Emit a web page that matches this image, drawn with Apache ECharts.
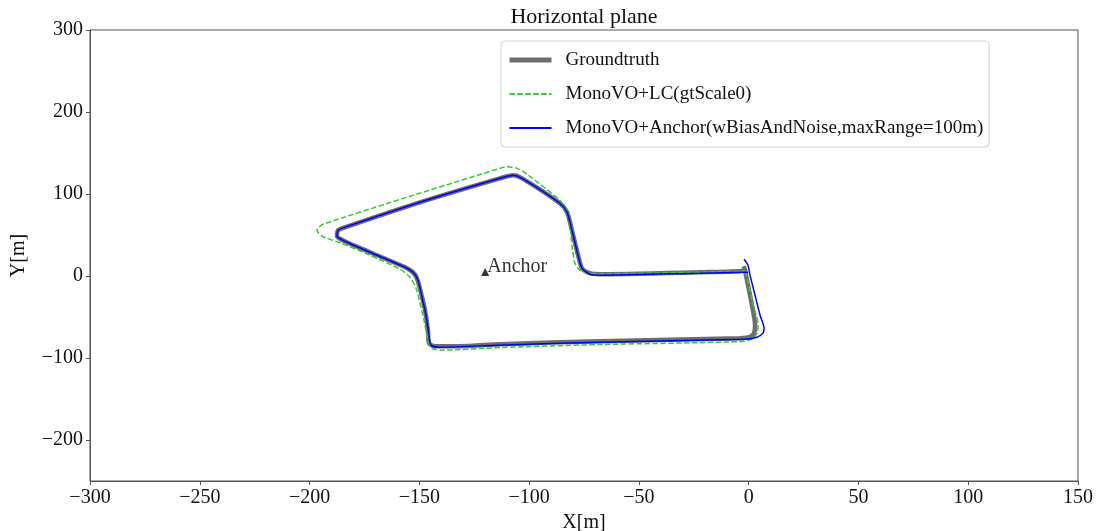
<!DOCTYPE html>
<html>
<head>
<meta charset="utf-8">
<script src="https://cdn.jsdelivr.net/npm/echarts@6/dist/echarts.min.js"></script>
<style>
  html, body { margin: 0; padding: 0; background: #fff; }
  #chart { width: 1099px; height: 531px; }
</style>
</head>
<body>
<div id="chart"></div>
<script>
// Trajectories in the horizontal plane, [x, y] in metres
const groundtruth = [
  [-1.7, 7.0], [-0.3, -11.2], [1.5, -35.6], [2.9, -60.0], [2.4, -69.7], [0.2, -74.6],
  [-4.0, -75.8], [-67.7, -79.5], [-113.3, -83.1], [-131.5, -85.6], [-142.9, -85.6],
  [-145.6, -81.9], [-146.1, -66.1], [-147.4, -41.7], [-149.2, -21.0], [-151.1, -2.7],
  [-152.9, 4.6], [-156.5, 10.7], [-172.5, 29.0], [-183.9, 42.4], [-187.5, 48.4],
  [-187.0, 55.8], [-183.9, 59.4], [-149.7, 89.9], [-113.3, 119.1], [-107.3, 122.8],
  [-103.2, 119.1], [-86.0, 88.7], [-82.7, 77.7], [-80.5, 55.8], [-77.7, 25.3],
  [-75.9, 9.5], [-72.3, 3.4], [-67.7, 2.2], [-22.2, 4.6], [-1.7, 7.0], [-2.2, 12.0]
];

const monoLC = [
  [-1.7, 5.8], [-0.3, -7.6], [1.5, -29.6], [4.3, -60.0], [3.8, -69.7], [1.5, -77.0],
  [-4.0, -80.0], [-67.7, -83.6], [-113.3, -87.3], [-139.7, -90.4], [-144.3, -88.0],
  [-146.1, -78.3], [-147.9, -53.9], [-151.5, -14.9], [-154.3, -1.5], [-158.8, 8.2],
  [-172.5, 25.3], [-186.1, 40.5], [-194.3, 48.5], [-196.6, 55.8], [-193.9, 63.1],
  [-111.9, 132.5], [-110.1, 133.1], [-105.5, 131.3], [-100.9, 124.0], [-86.0, 92.3],
  [-82.7, 80.1], [-81.4, 61.8], [-80.5, 37.5], [-79.1, 15.6], [-76.8, 7.0],
  [-73.2, 3.4], [-67.7, 2.8], [-22.2, 4.6], [-1.7, 5.8]
];

const monoAnchor = [
  [-2.1, 20.5], [-0.3, 13.2], [0.6, 1.0], [2.9, -23.4], [5.2, -47.8], [7.0, -63.6],
  [6.5, -69.7], [3.8, -74.6], [-1.7, -77.0], [-67.7, -80.7], [-113.3, -84.3],
  [-140.6, -86.8], [-144.7, -84.3], [-145.6, -72.2], [-147.0, -47.8], [-148.8, -25.9],
  [-150.6, -5.1], [-152.9, 4.6], [-156.5, 10.7], [-172.5, 29.0], [-183.9, 42.4],
  [-187.5, 48.4], [-187.0, 55.8], [-183.9, 59.4], [-149.7, 89.9], [-113.3, 119.1],
  [-107.3, 122.8], [-103.2, 119.1], [-86.0, 88.7], [-82.7, 77.7], [-80.5, 55.8],
  [-77.7, 25.3], [-75.9, 9.5], [-72.3, 2.2], [-67.7, 1.0], [-22.2, 3.4], [-0.3, 4.6]
];

const anchorPoint = [-120, 5];

const seriesNames = [
  'Groundtruth',
  'MonoVO+LC(gtScale0)',
  'MonoVO+Anchor(wBiasAndNoise,maxRange=100m)'
];
const xTicks = [-300, -250, -200, -150, -100, -50, 0, 50, 100, 150];
const yTicks = [-200, -100, 0, 100, 200, 300];

const FONT = '"Liberation Serif", "DejaVu Serif", serif';
const minus = v => String(v).replace('-', '\u2212');

const chart = echarts.init(document.getElementById('chart'), null, { renderer: 'canvas' });

chart.setOption({
  animation: false,
  backgroundColor: '#ffffff',
  title: {
    text: 'Horizontal plane',
    left: 584,
    textAlign: 'center',
    top: 6,
    padding: 0,
    textStyle: { fontFamily: FONT, fontSize: 22, fontWeight: 'normal', color: '#111' }
  },
  grid: {
    left: 90, right: 21, top: 30, bottom: 50,
    outerBoundsMode: 'none',
    containLabel: false,
    show: true, borderColor: '#555', borderWidth: 1, backgroundColor: 'transparent'
  },
  legend: {
    data: [
      { name: seriesNames[0], lineStyle: { width: 5 } },
      { name: seriesNames[1] },
      { name: seriesNames[2] }
    ],
    orient: 'vertical',
    left: 501,
    top: 41,
    itemWidth: 42,
    itemHeight: 14,
    itemGap: 14,
    padding: [9, 6, 9, 6],
    itemStyle: { opacity: 0 },
    backgroundColor: 'rgba(255,255,255,0.85)',
    borderColor: '#d0d0d0',
    borderWidth: 1,
    borderRadius: 4,
    textStyle: { fontFamily: FONT, fontSize: 19, color: '#111', lineHeight: 20, padding: [0, 0, 0, 9] }
  },
  xAxis: {
    type: 'value',
    min: -300, max: 150, interval: 50,
    name: 'X[m]',
    nameLocation: 'middle',
    nameGap: 23,
    nameTextStyle: { fontFamily: FONT, fontSize: 20, color: '#111' },
    axisLine: { show: true, onZero: false, lineStyle: { color: '#555', width: 1 } },
    axisTick: { show: true, length: 4, lineStyle: { color: '#555' }, customValues: xTicks },
    axisLabel: {
      fontFamily: FONT, fontSize: 20, color: '#111', margin: 7,
      customValues: xTicks, formatter: minus
    },
    splitLine: { show: false }
  },
  yAxis: {
    type: 'value',
    min: -250, max: 300, interval: 50,
    name: 'Y[m]',
    nameLocation: 'middle',
    nameGap: 61,
    nameTextStyle: { fontFamily: FONT, fontSize: 20, color: '#111' },
    axisLine: { show: true, onZero: false, lineStyle: { color: '#555', width: 1 } },
    axisTick: { show: true, length: 4, lineStyle: { color: '#555' }, customValues: yTicks },
    axisLabel: {
      fontFamily: FONT, fontSize: 20, color: '#111', margin: 7,
      customValues: yTicks, formatter: minus
    },
    splitLine: { show: false }
  },
  series: [
    {
      name: seriesNames[0],
      type: 'line',
      data: groundtruth,
      symbol: 'none',
      smooth: 0.25,
      lineStyle: { color: '#666666', width: 4.5, opacity: 0.95 },
      itemStyle: { color: '#666666' },
      z: 2
    },
    {
      name: seriesNames[1],
      type: 'line',
      data: monoLC,
      symbol: 'none',
      smooth: 0.25,
      lineStyle: { color: '#32cd32', width: 1.5, type: [5.5, 2.4] },
      itemStyle: { color: '#32cd32' },
      z: 3
    },
    {
      name: seriesNames[2],
      type: 'line',
      data: monoAnchor,
      symbol: 'none',
      smooth: 0.25,
      lineStyle: { color: '#0000ff', width: 1.5 },
      itemStyle: { color: '#0000ff' },
      z: 4
    },
    {
      name: 'Anchor',
      type: 'scatter',
      data: [anchorPoint],
      symbol: 'triangle',
      symbolSize: 8,
      itemStyle: { color: '#000' },
      label: {
        show: true,
        formatter: 'Anchor',
        position: 'right',
        distance: 0,
        offset: [-2, -5],
        fontFamily: FONT, fontSize: 20, color: '#000'
      },
      z: 5
    }
  ]
});
</script>
</body>
</html>
